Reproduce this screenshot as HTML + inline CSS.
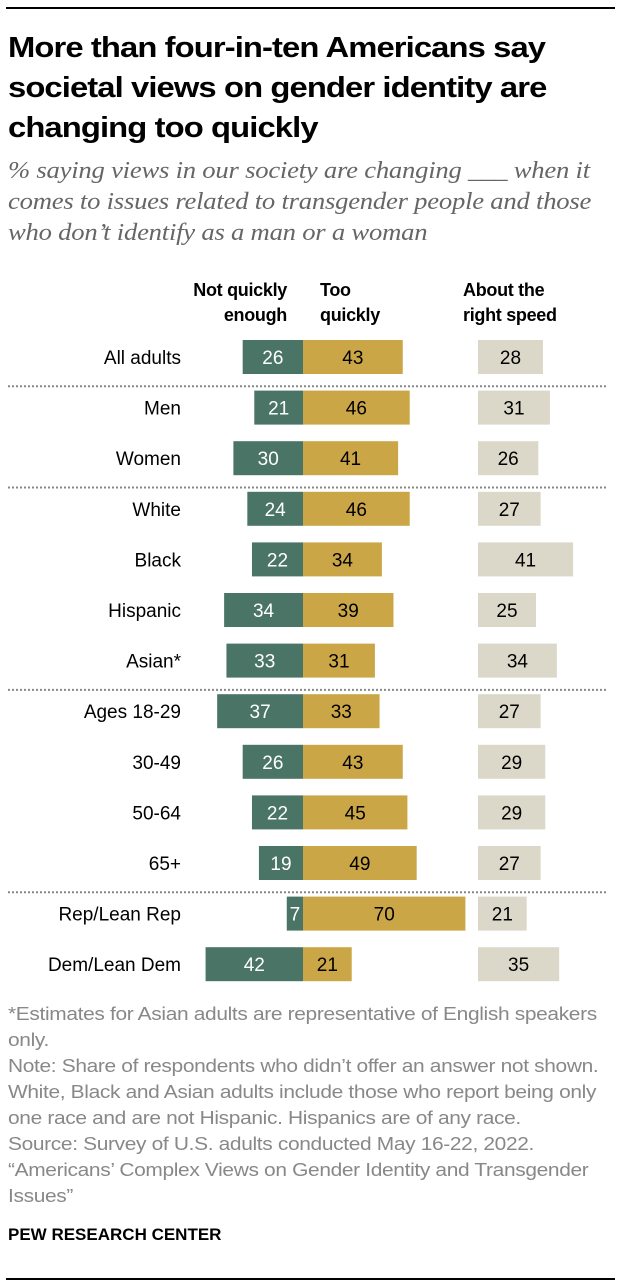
<!DOCTYPE html>
<html><head><meta charset="utf-8"><style>
body{margin:0;background:#fff;width:620px;height:1288px;position:relative;font-family:"Liberation Sans",sans-serif;overflow:hidden}
.abs{position:absolute}
#title{left:8px;top:28px;font-size:29px;font-weight:bold;line-height:40px;color:#000;letter-spacing:-0.8px;white-space:nowrap;transform:scaleX(1.13);transform-origin:0 0}
#sub{left:8px;top:156px;font-family:"Liberation Serif",serif;font-style:italic;font-size:24px;line-height:31px;color:#666;white-space:nowrap;letter-spacing:-0.2px;transform:scaleX(1.11);transform-origin:0 0}
.hdr{font-weight:bold;font-size:18px;line-height:25px;color:#000;letter-spacing:-0.3px}
.notes{left:8px;top:1001px;font-size:18.5px;line-height:26px;color:#888;white-space:nowrap;letter-spacing:-0.3px;transform:scaleX(1.13);transform-origin:0 0}
</style></head><body>
<div class="abs" style="left:6px;top:7px;width:609px;height:2px;background:#000"></div>
<div class="abs" id="title">More than four-in-ten Americans say<br>societal views on gender identity are<br>changing too quickly</div>
<div class="abs" id="sub">% saying views in our society are changing ___ when it<br>comes to issues related to transgender people and those<br>who don’t identify as a man or a woman</div>
<div class="abs hdr" style="left:130px;top:278px;width:157px;text-align:right">Not quickly<br>enough</div>
<div class="abs hdr" style="left:320px;top:278px">Too<br>quickly</div>
<div class="abs hdr" style="left:463px;top:278px">About the<br>right speed</div>
<svg id="chart" class="abs" style="left:0;top:0" width="620" height="1000"></svg>
<div class="abs notes">*Estimates for Asian adults are representative of English speakers<br>only.<br>Note: Share of respondents who didn’t offer an answer not shown.<br>White, Black and Asian adults include those who report being only<br>one race and are not Hispanic. Hispanics are of any race.<br>Source: Survey of U.S. adults conducted May 16-22, 2022.<br>“Americans’ Complex Views on Gender Identity and Transgender<br>Issues”</div>
<div class="abs" style="left:8px;top:1225px;font-weight:bold;font-size:17px;color:#000">PEW RESEARCH CENTER</div>
<div class="abs" style="left:6px;top:1278px;width:609px;height:2px;background:#000"></div>
<script>
const categories=["All adults","Men","Women","White","Black","Hispanic","Asian*","Ages 18-29","30-49","50-64","65+","Rep/Lean Rep","Dem/Lean Dem"];
const notQuickly=[26,21,30,24,22,34,33,37,26,22,19,7,42];
const tooQuickly=[43,46,41,46,34,39,31,33,43,45,49,70,21];
const rightSpeed=[28,31,26,27,41,25,34,27,29,29,27,21,35];
const dividerAfter=[0,2,6,10];
const NS="http://www.w3.org/2000/svg";
const svg=document.getElementById('chart');
const center=303, rightX=478, unit=2.32, rowH=50.6, firstRow=357, barH=34;
const yPos=i=>firstRow+i*rowH;
const w=v=>v*unit;
function mk(tag,attrs){const e=document.createElementNS(NS,tag);for(const k in attrs)e.setAttribute(k,attrs[k]);svg.appendChild(e);return e;}
categories.forEach((c,i)=>{
  const y=yPos(i);
  let t=mk('text',{x:181,y:y+7,'text-anchor':'end','font-size':19,fill:'#000'});t.textContent=c;
  
  
  let r=mk('rect',{x:center-w(notQuickly[i]),y:y-barH/2,width:w(notQuickly[i]),height:barH,fill:'#4a7566'});
  
  
  t=mk('text',{x:center-w(notQuickly[i])/2,y:y+7,'text-anchor':'middle','font-size':19,fill:'#fff'});t.textContent=notQuickly[i];
  
  
  r=mk('rect',{x:center,y:y-barH/2,width:w(tooQuickly[i]),height:barH,fill:'#cba646'});
  
  
  t=mk('text',{x:center+w(tooQuickly[i])/2,y:y+7,'text-anchor':'middle','font-size':19,fill:'#000'});t.textContent=tooQuickly[i];
  
  
  r=mk('rect',{x:rightX,y:y-barH/2,width:w(rightSpeed[i]),height:barH,fill:'#dcd8c9'});
  
  
  t=mk('text',{x:rightX+w(rightSpeed[i])/2,y:y+7,'text-anchor':'middle','font-size':19,fill:'#000'});t.textContent=rightSpeed[i];
  
  
});
dividerAfter.forEach(i=>{
  const y=yPos(i)+rowH/2+4;
  const l=mk('line',{x1:8,x2:607,y1:y,y2:y,stroke:'#888','stroke-width':2,'stroke-dasharray':'2,2'});
  
  
});
</script>
</body></html>
